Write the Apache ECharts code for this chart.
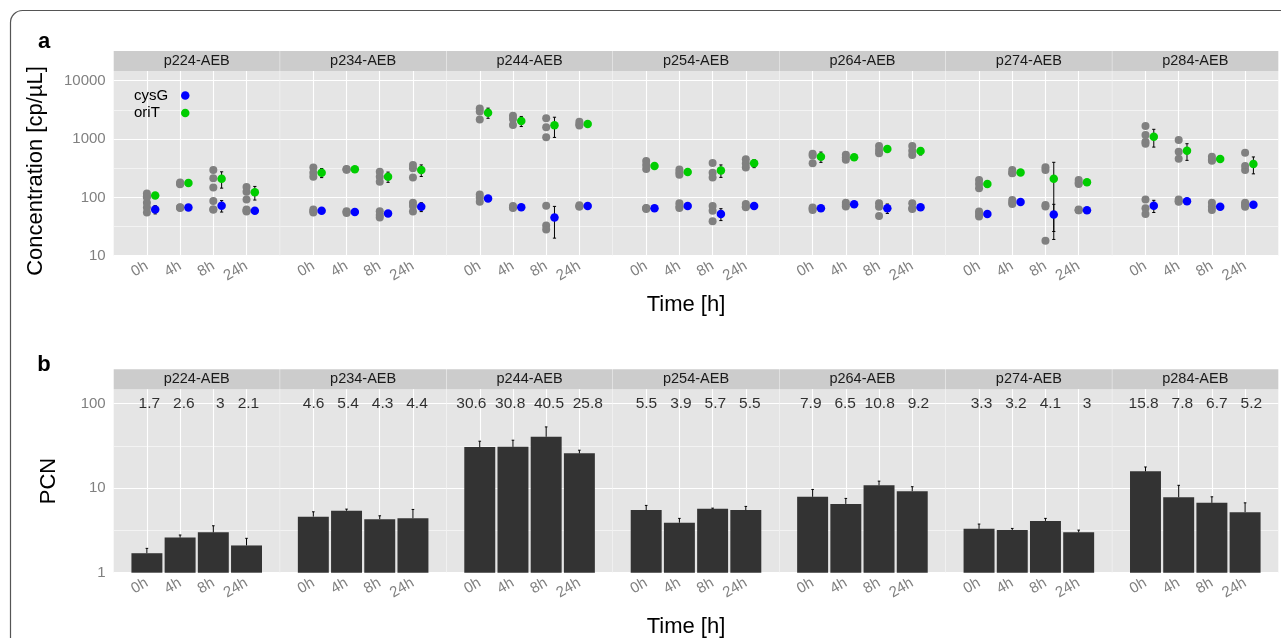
<!DOCTYPE html>
<html>
<head>
<meta charset="utf-8">
<script src="https://cdn.jsdelivr.net/npm/echarts@6/dist/echarts.min.js"></script>
<style>
  html, body { margin: 0; padding: 0; background: #fff; }
  #chart { width: 1281px; height: 638px; }
</style>
</head>
<body>
<div id="chart"></div>
<script>
// facets and time points
const facets = ['p224-AEB', 'p234-AEB', 'p244-AEB', 'p254-AEB', 'p264-AEB', 'p274-AEB', 'p284-AEB']
const times = ['0h', '4h', '8h', '24h']

// panel a: means (cp/uL) per facet per time
const oriTMean = [
  [108, 176, 209, 122],
  [265, 302, 226, 294],
  [2826, 2037, 1715, 1807],
  [344, 272, 290, 383],
  [498, 485, 674, 623],
  [169, 268, 209, 181],
  [1097, 631, 454, 373]
]
const oriTSd = [
  [8, 6, 65, 32],
  [47, 6, 45, 66],
  [560, 400, 650, 80],
  [20, 15, 70, 60],
  [100, 20, 40, 90],
  [20, 12, 190, 10],
  [370, 200, 20, 120]
]
const cysGMean = [
  [62, 67, 72, 59],
  [59, 56, 53, 69],
  [96, 68, 45, 71],
  [65, 71, 52, 71],
  [65, 76, 65, 68],
  [52, 83, 51, 60],
  [72, 86, 69, 75]
]
const cysGSd = [
  [10, 3, 16, 4],
  [4, 3, 5, 12],
  [5, 3, 25, 3],
  [3, 5, 12, 4],
  [3, 5, 12, 5],
  [4, 5, 25, 3],
  [17, 4, 5, 4]
]
// replicate measurements (grey dots)
const oriTReps = [
  [[117, 105, 100], [180, 172, 168], [294, 212, 148], [150, 125, 92]],
  [[325, 265, 225], [305, 300, 298], [275, 226, 186], [358, 314, 220]],
  [[3350, 2950, 2170], [2500, 2200, 1740], [2260, 1585, 1070], [1980, 1800, 1700]],
  [[420, 358, 306], [300, 270, 245], [390, 265, 220], [450, 380, 325]],
  [[560, 520, 385], [540, 480, 440], [760, 650, 570], [760, 630, 530]],
  [[198, 169, 143], [294, 262, 258], [327, 294], [198, 178, 170]],
  [[1670, 1170, 900, 830], [960, 607, 460], [498, 440, 425], [583, 344, 294]]
]
const cysGReps = [
  [[81, 67, 55], [68, 67, 66], [87, 62, 62], [62, 59, 57]],
  [[62, 58, 55], [58, 56, 54], [58, 50, 45], [81, 71, 57]],
  [[112, 99, 84], [71, 68, 66], [72, 33, 28], [73, 70, 70]],
  [[66, 65, 63], [79, 70, 66], [71, 59, 39], [77, 70, 68]],
  [[67, 64, 61], [81, 75, 70], [79, 69, 48], [79, 65, 63]],
  [[57, 52, 47], [90, 82, 77], [74, 70, 18], [62, 60, 60]],
  [[92, 65, 52], [92, 86, 84], [81, 69, 61], [81, 75, 69]]
]

// panel b: plasmid copy number
const pcnMean = [
  [1.7, 2.6, 3, 2.1],
  [4.6, 5.4, 4.3, 4.4],
  [30.6, 30.8, 40.5, 25.8],
  [5.5, 3.9, 5.7, 5.5],
  [7.9, 6.5, 10.8, 9.2],
  [3.3, 3.2, 4.1, 3],
  [15.8, 7.8, 6.7, 5.2]
]
const pcnSd = [
  [0.24, 0.19, 0.59, 0.45],
  [0.65, 0.25, 0.41, 1.2],
  [5.3, 6.1, 12.5, 2.3],
  [0.75, 0.49, 0.1, 0.58],
  [1.75, 1.06, 1.3, 1.2],
  [0.46, 0.14, 0.29, 0.19],
  [2.0, 3.0, 1.2, 1.5]
]

// layout
const FONT = '"Liberation Sans", Arial, Helvetica, sans-serif'
const PANEL_LEFT = 113.7
const FACET_W = 166.43
const GAP = 0.4
const A_TOP = 71, A_H = 184.7
const B_TOP = 389.2, B_H = 183.5
const STRIP_H = 20
const DODGE = 0.25
const A_MIN = 10, A_MAX = 14660
const B_MIN = 1, B_MAX = 148
const LABEL_X = 2.5, LABEL_Y = 100

const chart = echarts.init(document.getElementById('chart'))

const powLabel = (v) => {
  const e = Math.log10(v)
  return Math.abs(e - Math.round(e)) < 1e-6 ? String(Math.round(v)) : ''
}

const errBar = (cap, bottomCap, yMin) => (params, api) => {
  const x = api.value(0)
  const lo = Math.max(api.value(1), yMin)
  const hi = api.value(2)
  const t = api.coord([x, hi])
  const b = api.coord([x, lo])
  const st = { stroke: '#000', lineWidth: 1 }
  const kids = [
    { type: 'line', shape: { x1: t[0], y1: t[1], x2: b[0], y2: b[1] }, style: st },
    { type: 'line', shape: { x1: t[0] - cap, y1: t[1], x2: t[0] + cap, y2: t[1] }, style: st }
  ]
  if (bottomCap) kids.push({ type: 'line', shape: { x1: b[0] - cap, y1: b[1], x2: b[0] + cap, y2: b[1] }, style: st })
  return { type: 'group', children: kids }
}

const grid = [], xAxis = [], yAxis = [], series = [], graphic = []

facets.forEach((f, i) => {
  const left = PANEL_LEFT + i * FACET_W
  ;[[A_TOP, A_H], [B_TOP, B_H]].forEach(([top, h], p) => {
    grid.push({ left: left, top: top, width: FACET_W - GAP, height: h,
      show: true, backgroundColor: '#e5e5e5', borderWidth: 0 })
    const gi = grid.length - 1
    xAxis.push({
      type: 'value', gridIndex: gi, min: 0, max: 5, interval: 1,
      axisLine: { show: false }, axisTick: { show: false },
      axisLabel: { rotate: 30, color: '#808080', fontSize: 15, margin: 9, fontFamily: FONT,
        formatter: (v) => times[v - 1] || '' },
      splitLine: { show: true, showMinLine: false, showMaxLine: false, lineStyle: { color: '#fff', width: 1.1 } }
    })
    yAxis.push({
      type: 'log', logBase: Math.sqrt(10), gridIndex: gi,
      min: p === 0 ? A_MIN : B_MIN, max: p === 0 ? A_MAX : B_MAX,
      axisLine: { show: false }, axisTick: { show: false },
      axisLabel: { show: i === 0, color: '#808080', fontSize: 15, margin: 8, fontFamily: FONT, formatter: powLabel },
      splitLine: { show: true, showMaxLine: false, lineStyle: { color: ['#ffffff', '#f3f3f3'], width: 1.1 } }
    })
    graphic.push({ type: 'rect', silent: true,
      shape: { x: left, y: top - STRIP_H, width: FACET_W - GAP, height: STRIP_H }, style: { fill: '#cccccc' } })
    graphic.push({ type: 'text', silent: true, x: left + (FACET_W - GAP) / 2, y: top - STRIP_H / 2,
      style: { text: f, fontSize: 14.5, fontFamily: FONT, fill: '#1a1a1a', align: 'center', verticalAlign: 'middle' } })
  })
  const ga = 2 * i, gb = 2 * i + 1

  // panel a
  const reps = []
  times.forEach((t, k) => {
    oriTReps[i][k].forEach(v => reps.push([k + 1, v]))
    cysGReps[i][k].forEach(v => reps.push([k + 1, v]))
  })
  series.push({ type: 'scatter', name: 'replicate', xAxisIndex: ga, yAxisIndex: ga, data: reps,
    symbol: 'circle', symbolSize: 8, itemStyle: { color: '#808080', opacity: 1 }, z: 2 })
  const errs = []
  times.forEach((t, k) => {
    errs.push([k + 1 + DODGE, cysGMean[i][k] - cysGSd[i][k], cysGMean[i][k] + cysGSd[i][k]])
    errs.push([k + 1 + DODGE, oriTMean[i][k] - oriTSd[i][k], oriTMean[i][k] + oriTSd[i][k]])
  })
  series.push({ type: 'custom', name: 'sd', xAxisIndex: ga, yAxisIndex: ga, data: errs,
    renderItem: errBar(1.6, true, A_MIN), encode: { x: 0, y: [1, 2] }, z: 3, silent: true })
  series.push({ type: 'scatter', name: 'cysG', xAxisIndex: ga, yAxisIndex: ga,
    data: cysGMean[i].map((v, k) => [k + 1 + DODGE, v]),
    symbol: 'circle', symbolSize: 8.5, itemStyle: { color: '#0000ff', opacity: 1 }, z: 4 })
  series.push({ type: 'scatter', name: 'oriT', xAxisIndex: ga, yAxisIndex: ga,
    data: oriTMean[i].map((v, k) => [k + 1 + DODGE, v]),
    symbol: 'circle', symbolSize: 8.5, itemStyle: { color: '#00cd00', opacity: 1 }, z: 4 })

  // panel b
  series.push({ type: 'bar', name: 'PCN', xAxisIndex: gb, yAxisIndex: gb,
    data: pcnMean[i].map((v, k) => [k + 1, v]),
    barWidth: FACET_W / 5 * 0.93, itemStyle: { color: '#333333' }, z: 2 })
  series.push({ type: 'custom', name: 'pcnSd', xAxisIndex: gb, yAxisIndex: gb,
    data: pcnMean[i].map((v, k) => [k + 1, v, v + pcnSd[i][k]]),
    renderItem: errBar(1.3, false, B_MIN), encode: { x: 0, y: [1, 2] }, z: 3, silent: true })
  // one fixed-width text line per facet, as in the original annotation
  const line = pcnMean[i].map(v => String(v).padStart(4, ' ')).join('  ')
  series.push({ type: 'scatter', name: 'pcnLabel', xAxisIndex: gb, yAxisIndex: gb,
    data: [[LABEL_X, LABEL_Y]],
    symbolSize: 1, itemStyle: { color: 'rgba(0,0,0,0)' }, z: 5, silent: true,
    label: { show: true, position: 'inside', formatter: () => line,
      color: '#000', fontSize: 15.5, fontFamily: FONT } })
})

// titles and frame
const txt = (text, x, y, size, extra) => Object.assign({ type: 'text', silent: true, x: x, y: y,
  style: { text: text, fontSize: size, fontFamily: FONT, fill: '#000', align: 'center', verticalAlign: 'middle' } }, extra || {})
graphic.push({ type: 'rect', silent: true, shape: { x: 10.5, y: 10.5, width: 1320, height: 700, r: 12 },
  style: { fill: 'none', stroke: '#555', lineWidth: 1.2 } })
const labA = txt('a', 44, 42, 22), labB = txt('b', 44, 365, 22)
labA.style.fontWeight = 'bold'
labB.style.fontWeight = 'bold'
graphic.push(labA, labB)
graphic.push(txt('Concentration [cp/µL]', 36, 171, 22, { rotation: Math.PI / 2 }))
graphic.push(txt('PCN', 49, 481, 22, { rotation: Math.PI / 2 }))
graphic.push(txt('Time [h]', 686, 305, 22))
graphic.push(txt('Time [h]', 686, 627, 22))

chart.setOption({
  animation: false,
  textStyle: { fontFamily: FONT },
  grid: grid,
  xAxis: xAxis,
  yAxis: yAxis,
  legend: {
    data: [{ name: 'cysG', icon: 'circle' }, { name: 'oriT', icon: 'circle' }],
    orient: 'vertical', left: 129, top: 83, align: 'right', selectedMode: false,
    itemWidth: 8.5, itemHeight: 8.5, itemGap: 2.5,
    formatter: (name) => '{n|' + name + '}',
    textStyle: { fontSize: 15, color: '#000', lineHeight: 15, fontFamily: FONT,
      rich: { n: { width: 42, align: 'left', fontSize: 15, fontFamily: FONT, color: '#000' } } }
  },
  graphic: graphic,
  series: series
})
</script>
</body>
</html>
